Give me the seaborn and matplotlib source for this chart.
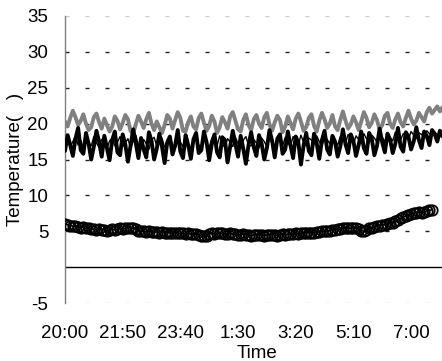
import numpy as np
import pandas as pd
import matplotlib
matplotlib.use("Agg")
import matplotlib.pyplot as plt
import seaborn as sns

# ---- data (5-minute samples starting 20:00) ----
tick_minutes = [0, 110, 220, 330, 440, 550, 660]
tick_labels = ["20:00", "21:50", "23:40", "1:30", "3:20", "5:10", "7:00"]
y_ticks = [-5, 5, 10, 15, 20, 25, 30, 35]

gray_series = [
    20.3, 19.6, 20.8, 21.8, 20.9, 19.8, 20.4, 21.3, 20.0, 19.1, 19.5, 20.9, 21.4, 20.2, 19.3, 20.7,
    19.8, 18.9, 19.6, 21.0, 20.4, 19.2, 20.1, 21.2, 20.6, 19.0, 18.6, 19.9, 21.1, 20.3, 19.4, 20.6,
    21.5, 20.0, 19.1, 20.3, 19.5, 18.7, 19.8, 21.2, 20.7, 19.3, 20.5, 21.6, 20.8, 19.0, 18.9, 20.2,
    21.0, 19.6, 19.2, 20.8, 21.4, 20.1, 19.0, 19.7, 21.1, 20.3, 18.7, 19.5, 20.9, 20.2, 19.3, 21.0,
    21.6, 20.4, 19.2, 18.9, 20.5, 21.3, 19.8, 19.1, 20.6, 21.2, 20.0, 19.4, 20.9, 21.5, 19.9, 19.0,
    20.2, 21.1, 20.5, 18.8, 19.6, 21.0, 20.1, 19.2, 20.7, 21.4, 20.3, 19.0, 19.5, 20.8, 21.3, 19.7,
    18.9, 20.4, 21.5, 20.6, 19.4, 20.0, 21.2, 19.6, 19.1, 20.5, 21.7, 20.4, 19.3, 19.9, 21.0, 20.2,
    19.1, 20.3, 21.6, 20.8, 19.5, 20.1, 21.3, 20.5, 19.2, 19.8, 21.1, 21.5, 20.0, 19.4, 20.6, 21.4,
    20.2, 19.6, 20.8, 21.8, 20.7, 19.9, 20.4, 21.5, 20.9, 20.3, 21.6, 22.2, 21.4, 21.9, 22.4, 21.7,
    22.3,
]

black_series = [
    16.2, 18.4, 17.0, 15.5, 17.9, 19.4, 16.3, 15.8, 18.7, 17.2, 15.0, 16.8, 19.0, 17.5, 15.4, 18.3,
    16.6, 14.9, 17.7, 18.9, 16.0, 15.6, 18.5, 17.1, 14.7, 16.9, 19.2, 17.3, 15.2, 18.0, 16.4, 15.3,
    18.8, 17.6, 15.0, 16.5, 18.6, 16.8, 14.5, 17.4, 18.2, 15.7, 16.9, 19.1, 16.1, 15.2, 18.4, 17.0,
    15.1, 17.8, 18.7, 15.9, 16.3, 18.9, 17.4, 14.9, 17.2, 18.5, 16.0, 15.3, 18.1, 17.7, 14.6, 16.8,
    19.0, 17.1, 15.4, 18.3, 16.5, 14.4, 17.0, 18.8, 16.7, 15.5, 18.4, 17.2, 15.0, 16.6, 19.1, 17.6,
    15.3, 17.9, 18.5, 15.8, 16.4, 18.9, 17.0, 15.2, 18.2, 17.4, 14.3, 16.9, 18.7, 16.2, 15.6, 18.6,
    17.3, 15.1, 17.7, 19.0, 16.4, 15.7, 18.3, 17.5, 15.4, 16.8, 19.2, 17.1, 15.9, 18.5, 17.6, 15.5,
    17.0, 18.9, 16.6, 15.8, 18.7, 17.9, 15.6, 16.9, 19.3, 17.4, 16.0, 18.6, 17.8, 15.9, 17.2, 19.4,
    16.8, 16.1, 18.8, 18.2, 16.4, 17.5, 19.5, 17.7, 16.6, 18.9, 18.3, 17.0, 19.1, 18.6, 17.5, 19.0,
    18.2,
]

thin_series = [
    17.2, 17.9, 16.8, 17.5, 18.3, 17.0, 17.7, 16.6, 18.1, 17.4, 16.9, 18.2, 17.3, 16.7, 17.8, 17.1,
    16.5, 17.6, 18.0, 16.9, 17.4, 18.2, 16.8, 17.3, 17.9, 16.6, 17.5, 18.4, 17.0, 16.7, 17.8, 17.2,
    16.4, 17.7, 18.1, 16.9, 17.3, 18.0, 16.7, 17.5, 18.3, 17.1, 16.6, 17.9, 17.4, 16.8, 18.2, 17.2,
    16.5, 17.6, 18.1, 17.0, 16.8, 17.8, 17.3, 16.6, 18.0, 17.5, 16.9, 18.3, 17.1, 16.7, 17.9, 17.4,
    16.8, 18.1, 17.2, 16.5, 17.7, 18.2, 17.0, 16.9, 17.8, 17.3, 16.6, 18.0, 17.5, 16.8, 18.3, 17.2,
    16.7, 17.9, 17.6, 16.9, 18.1, 17.3, 16.8, 18.2, 17.5, 17.0, 18.4, 17.4, 16.9, 18.0, 17.7, 17.1,
    18.3, 17.5, 16.9, 18.1, 17.8, 17.2, 18.4, 17.6, 17.0, 18.2, 17.9, 17.3, 18.5, 17.7, 17.1, 18.3,
    17.8, 17.2, 18.6, 17.9, 17.3, 18.4, 18.0, 17.4, 18.7, 18.1, 17.5, 18.5, 18.0, 17.6, 18.8, 18.2,
    17.7, 18.6, 18.3, 17.8, 18.9, 18.4, 17.9, 18.7, 18.5, 18.0, 19.0, 18.6, 18.3, 18.8, 18.4,
    18.9,
]

circle_series = [
    6.0, 5.9, 5.8, 5.7, 5.7, 5.6, 5.5, 5.6, 5.4, 5.4, 5.3, 5.3, 5.2, 5.3, 5.2, 5.2,
    5.1, 5.2, 5.3, 5.2, 5.3, 5.4, 5.3, 5.4, 5.5, 5.5, 5.4, 5.3, 5.1, 5.0, 5.0, 4.9,
    5.0, 4.9, 4.9, 4.9, 4.8, 4.9, 4.8, 4.8, 4.8, 4.7, 4.8, 4.7, 4.7, 4.7, 4.6, 4.7,
    4.6, 4.6, 4.6, 4.5, 4.4, 4.3, 4.4, 4.6, 4.7, 4.6, 4.7, 4.7, 4.7, 4.6, 4.6, 4.7,
    4.6, 4.6, 4.5, 4.5, 4.6, 4.5, 4.5, 4.4, 4.5, 4.5, 4.5, 4.5, 4.4, 4.5, 4.5, 4.5,
    4.5, 4.4, 4.5, 4.6, 4.5, 4.6, 4.6, 4.6, 4.7, 4.6, 4.7, 4.7, 4.8, 4.8, 4.8, 4.8,
    4.9, 4.9, 5.0, 5.0, 5.0, 5.1, 5.2, 5.2, 5.3, 5.3, 5.4, 5.5, 5.5, 5.4, 5.5, 5.4,
    5.3, 5.1, 5.0, 5.2, 5.4, 5.5, 5.6, 5.7, 5.8, 5.9, 5.9, 6.0, 6.1, 6.2, 6.4, 6.6,
    6.8, 7.0, 7.1, 7.3, 7.4, 7.5, 7.6, 7.7, 7.6, 7.7, 7.8, 7.9, 8.0,
]

# ---- style ----
sns.set_theme(style="white")
plt.rcParams["font.family"] = ["Liberation Sans", "DejaVu Sans"]

fig = plt.figure(figsize=(4.42, 3.61), dpi=100)
ax = fig.add_axes([65 / 442, 1 - 303 / 361, 377 / 442, 287 / 361])


def frame(vals):
    return pd.DataFrame({"minute": np.arange(len(vals)) * 5, "temp": vals})


# grid lines
for yv in [5, 10, 15, 20, 25, 30]:
    ax.axhline(yv, color="#222222", lw=1.0, linestyle=(0, (2.9, 11.5)), zorder=0)
for yv in [35, -5]:
    ax.axhline(yv, color="#cccccc", lw=1.0, linestyle=(0, (2.9, 11.5)), zorder=0)
ax.axhline(0, color="black", lw=1.0, zorder=1)

sns.lineplot(data=frame(gray_series), x="minute", y="temp", ax=ax,
             color="#808080", lw=2.8, zorder=2)
sns.lineplot(data=frame(thin_series), x="minute", y="temp", ax=ax,
             color="black", lw=1.0, zorder=3)
sns.lineplot(data=frame(black_series), x="minute", y="temp", ax=ax,
             color="black", lw=2.8, zorder=4)
sns.lineplot(data=frame(circle_series), x="minute", y="temp", ax=ax,
             color="black", lw=1.2, marker="o", markersize=7.5,
             markerfacecolor="none", markeredgecolor="black", markeredgewidth=1.3, zorder=5)

ax.set_xlim(0, 719)
ax.set_ylim(-5, 35)
ax.set_xticks(tick_minutes)
ax.set_xticklabels(tick_labels)
ax.set_yticks(y_ticks)
ax.set_yticklabels([str(v) for v in y_ticks])
ax.tick_params(axis="x", length=0, pad=16, labelsize=13.5, colors="black")
ax.tick_params(axis="y", direction="in", length=5, width=1, color="#808080",
               pad=12, labelsize=13.5, labelcolor="black")

for s in ["top", "right", "bottom"]:
    ax.spines[s].set_visible(False)
ax.spines["left"].set_color("#808080")
ax.spines["left"].set_linewidth(1.0)

ax.set_xlabel("Time", fontsize=13.5, color="black")
ax.xaxis.set_label_coords((257 - 65) / 377, -0.145)
ax.set_ylabel("Temperature(   )", fontsize=13.5, color="black")
ax.yaxis.set_label_coords(-0.11, 0.5)

fig.savefig("out.png", dpi=100)
